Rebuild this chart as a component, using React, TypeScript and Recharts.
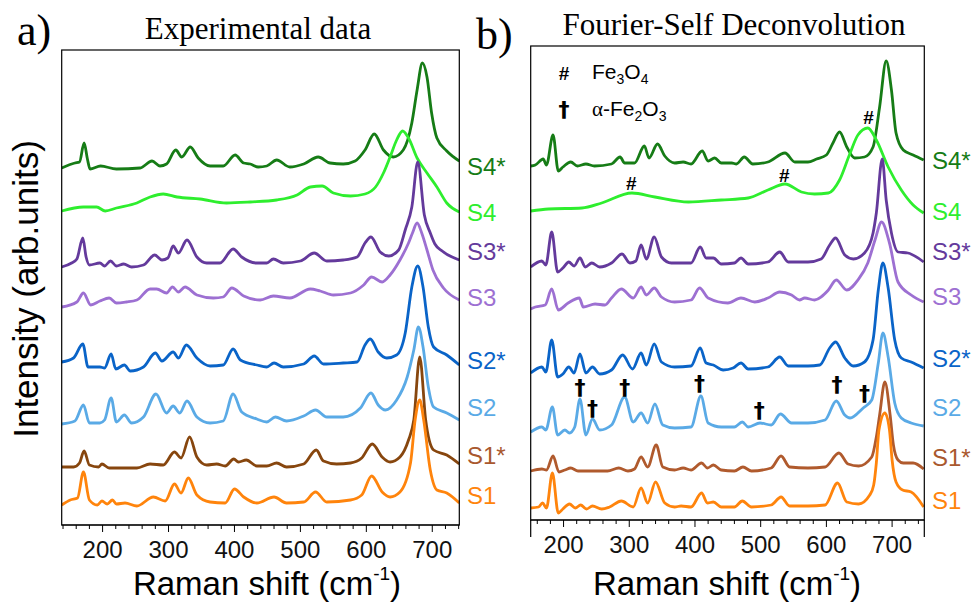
import React from "react";
import { ComposedChart, Line, Scatter, XAxis, YAxis } from "recharts";

type Pt = [number, number];

// a) experimental spectra, [Raman shift cm-1, stacked intensity]
const A_S4S: Pt[] = [[138,357],[158,362],[165,363],[172,382],[177,366],[181,356],[197,359],[221,356],[257,357],[275,364],[287,359],[297,361],[311,375],[320,368],[333,378],[345,367],[363,359],[383,359],[401,370],[414,362],[424,361],[436,358],[449,359],[464,365],[484,358],[505,361],[527,368],[545,362],[565,361],[583,364],[598,375],[612,391],[626,375],[641,368],[656,375],[669,402],[677,435],[685,462],[692,448],[699,412],[707,387],[722,374],[741,364]];
const A_S4: Pt[] = [[138,314],[171,318],[191,318],[204,314],[221,317],[252,322],[272,328],[292,331],[313,328],[348,326],[388,322],[424,323],[464,325],[495,330],[515,338],[533,339],[550,332],[576,329],[598,331],[614,338],[626,352],[636,368],[646,385],[655,394],[664,387],[677,367],[692,352],[707,338],[722,322],[741,313]];
const A_S3S: Pt[] = [[138,258],[153,262],[161,266],[170,287],[175,268],[180,260],[196,262],[203,259],[212,264],[221,259],[232,261],[244,258],[262,260],[279,270],[290,265],[299,267],[307,279],[315,272],[328,285],[343,268],[358,262],[378,262],[398,276],[411,268],[434,262],[449,262],[459,266],[474,262],[500,264],[521,272],[540,264],[565,265],[586,268],[598,282],[607,288],[621,273],[634,269],[649,275],[659,295],[669,318],[678,363],[688,310],[697,292],[704,281],[715,274],[741,265]];
const A_S3: Pt[] = [[138,218],[161,223],[171,232],[182,220],[196,224],[210,227],[221,222],[236,223],[252,225],[272,236],[282,236],[297,232],[306,238],[315,233],[325,238],[343,230],[368,227],[383,228],[396,237],[414,229],[439,225],[459,229],[484,227],[515,236],[530,234],[550,230],[576,232],[596,240],[608,248],[624,243],[636,250],[651,265],[664,282],[670,292],[677,302],[684,292],[692,275],[701,255],[717,237],[741,225]];
const A_S2S: Pt[] = [[138,163],[156,167],[170,181],[178,158],[196,158],[203,157],[213,171],[220,156],[233,160],[242,154],[262,158],[280,172],[290,164],[307,173],[315,167],[327,180],[343,167],[363,159],[383,160],[398,176],[409,165],[434,160],[449,158],[460,162],[474,158],[505,161],[521,169],[535,161],[565,162],[586,163],[598,180],[606,186],[618,173],[631,167],[646,170],[659,192],[669,238],[678,259],[686,238],[694,198],[702,178],[722,170],[741,160]];
const A_S2: Pt[] = [[138,101],[158,104],[171,120],[180,102],[196,102],[203,105],[213,127],[221,103],[233,110],[244,102],[262,108],[281,131],[297,112],[307,119],[317,112],[328,124],[343,108],[363,102],[383,104],[398,131],[411,113],[434,106],[449,103],[462,108],[479,104],[505,109],[523,115],[540,108],[565,108],[591,117],[607,132],[618,120],[629,115],[646,125],[662,148],[672,175],[679,198],[686,178],[694,138],[702,118],[722,112],[741,105]];
const A_S1S: Pt[] = [[138,58],[156,58],[165,62],[172,74],[180,60],[194,58],[199,61],[210,57],[231,57],[252,57],[272,61],[292,60],[309,73],[319,67],[332,88],[343,68],[358,60],[373,61],[386,59],[399,66],[406,63],[418,65],[434,59],[449,59],[464,62],[479,58],[505,61],[524,75],[535,64],[555,61],[576,62],[593,67],[609,81],[624,68],[636,63],[651,68],[664,85],[672,105],[681,168],[690,105],[702,75],[722,70],[741,61]];
const A_S1: Pt[] = [[138,20],[151,25],[162,27],[171,53],[180,25],[192,20],[199,24],[207,21],[215,25],[221,21],[234,22],[252,19],[277,28],[295,24],[309,41],[319,32],[330,47],[343,30],[363,23],[386,22],[400,36],[414,28],[434,22],[460,28],[479,22],[505,23],[523,33],[540,23],[576,25],[593,30],[608,49],[624,33],[636,28],[651,33],[667,62],[674,105],[681,125],[687,105],[697,55],[707,35],[722,32],[741,22]];

// b) Fourier-self-deconvolved spectra
const B_S4S: Pt[] = [[150,354],[157,355],[169,361],[174,355],[184,385],[192,349],[199,353],[211,358],[221,354],[234,356],[247,354],[273,356],[286,363],[293,357],[308,357],[323,374],[330,362],[343,376],[354,364],[369,357],[382,358],[394,356],[411,369],[420,359],[430,362],[440,357],[456,357],[463,356],[475,363],[488,356],[511,358],[537,367],[552,358],[572,358],[585,361],[600,365],[610,377],[620,388],[631,373],[643,362],[658,363],[671,373],[681,413],[691,459],[699,430],[706,387],[717,370],[732,365],[748,360]];
const B_S4: Pt[] = [[150,309],[177,311],[228,312],[258,317],[304,327],[339,323],[390,318],[440,320],[481,322],[511,330],[537,336],[562,328],[582,326],[603,327],[620,340],[635,365],[648,385],[663,392],[676,380],[694,353],[714,330],[732,315],[748,307]];
const B_S3S: Pt[] = [[150,253],[167,259],[173,255],[182,288],[191,248],[199,252],[208,258],[216,254],[225,262],[233,253],[243,257],[255,253],[273,257],[289,266],[301,257],[310,259],[318,275],[326,261],[338,283],[349,263],[364,257],[379,257],[394,257],[408,273],[417,262],[428,262],[440,256],[460,257],[470,262],[481,256],[511,258],[529,268],[542,258],[572,258],[592,261],[605,275],[614,282],[628,265],[641,261],[658,267],[671,287],[676,307],[685,361],[691,320],[699,287],[709,268],[724,267],[748,258]];
const B_S3: Pt[] = [[150,211],[157,213],[172,215],[182,231],[192,210],[207,217],[224,222],[230,213],[248,216],[263,215],[273,222],[288,231],[306,222],[318,233],[326,225],[338,232],[349,223],[369,218],[394,220],[407,232],[420,222],[450,217],[470,222],[491,218],[511,222],[529,228],[547,225],[559,220],[567,222],[582,220],[603,230],[615,240],[631,230],[648,240],[663,257],[674,280],[684,298],[696,277],[709,238],[729,225],[748,218]];
const B_S2S: Pt[] = [[150,147],[167,153],[173,148],[182,180],[191,143],[199,146],[208,153],[216,147],[225,166],[234,147],[244,153],[255,146],[273,150],[290,165],[305,151],[318,167],[326,155],[338,176],[349,158],[369,153],[394,154],[408,172],[417,157],[428,155],[443,150],[458,152],[470,157],[481,151],[511,153],[529,163],[542,154],[572,154],[590,155],[605,172],[614,178],[628,162],[641,154],[658,158],[671,180],[679,230],[686,257],[694,232],[704,180],[714,162],[729,158],[748,152]];
const B_S2: Pt[] = [[150,88],[167,93],[173,90],[183,113],[191,85],[202,90],[209,87],[217,93],[225,121],[234,85],[244,101],[255,90],[273,95],[293,123],[306,98],[318,107],[328,97],[339,116],[351,95],[369,92],[394,93],[409,124],[420,97],[440,93],[460,93],[472,98],[481,93],[499,97],[516,95],[530,106],[547,97],[572,97],[598,100],[615,119],[628,105],[636,102],[656,112],[669,120],[679,157],[686,187],[694,163],[704,117],[714,102],[729,97],[748,94]];
const B_S1S: Pt[] = [[150,49],[167,51],[174,50],[184,64],[193,48],[202,50],[211,52],[222,49],[267,49],[284,52],[298,49],[308,51],[318,63],[328,53],[341,75],[351,53],[369,50],[382,52],[394,50],[410,57],[419,52],[428,55],[440,50],[460,49],[473,53],[486,49],[516,52],[531,64],[544,53],[572,52],[598,53],[619,67],[633,56],[649,54],[669,63],[676,83],[681,105],[689,138],[697,105],[702,75],[709,60],[717,57],[732,57],[748,51]];
const B_S1: Pt[] = [[150,12],[162,13],[168,17],[174,12],[183,47],[192,7],[199,11],[209,16],[218,12],[226,15],[235,11],[244,14],[258,11],[270,13],[288,19],[306,13],[318,32],[328,17],[340,38],[354,17],[369,13],[379,14],[394,13],[410,27],[419,17],[428,18],[440,13],[460,13],[472,19],[486,13],[516,15],[531,23],[544,14],[572,14],[598,15],[617,37],[631,18],[649,16],[666,25],[672,35],[676,57],[680,90],[689,107],[696,90],[700,60],[706,38],[716,30],[729,28],[748,13]];

// phase markers on panel b
const HASH_MARKS: Pt[] = [[303,337],[536,345],[664,403]];
const DAGGER_MARKS: Pt[] = [[225,133],[244,112],[293,133],[407,137],[498,110],[616,136],[658,127]];

const SERIES = ["S4*", "S4", "S3*", "S3", "S2*", "S2", "S1*", "S1"];
const TICKS_A = [140,160,180,200,220,240,260,280,300,320,340,360,380,400,420,440,460,480,500,520,540,560,580,600,620,640,660,680,700,720,740];
const TICKS_B = [160,180,200,220,240,260,280,300,320,340,360,380,400,420,440,460,480,500,520,540,560,580,600,620,640,660,680,700,720,740];

const LINE_COLORS = ["#167c16", "#2eee2e", "#643a9c", "#9d70d2", "#0a64c8", "#5aaae6", "#87460e", "#ff840c"];
const LINE_COLORS_B = ["#167c16", "#2eee2e", "#643a9c", "#9d70d2", "#0a64c8", "#5aaae6", "#b05a2d", "#ff840c"];
const LABEL_COLORS = ["#167c16", "#2eee2e", "#643a9c", "#9d70d2", "#0a64c8", "#5aaae6", "#a9582e", "#ff840c"];

const SANS = "'Liberation Sans', Arial, Helvetica, sans-serif";
const SERIF = "'Liberation Serif', 'Times New Roman', serif";

const toPts = (arr: Pt[]) => arr.map(([x, y]) => ({ x, y }));

function makeTick(props: any) {
  const { x, y, payload } = props;
  const major = payload.value % 100 === 0;
  return (
    <g>
      <line x1={x} x2={x} y1={y} y2={y + (major ? 7 : 4)} stroke="#000" strokeWidth={1} />
      {major ? (
        <text x={x} y={y + 33} textAnchor="middle" fontSize={24} fontFamily={SANS} fill="#111">
          {payload.value}
        </text>
      ) : null}
    </g>
  );
}

function Panel(props: {
  left: number; width: number; plotLeft: number; plotRight: number; plotTop: number; plotBottom: number;
  domain: [number, number]; yMax: number; ticks: number[]; series: Pt[][]; colors: string[]; marks?: boolean;
}) {
  const { left, width, plotLeft, plotRight, plotTop, plotBottom, domain, yMax, ticks, series, colors, marks } = props;
  return (
    <div style={{ position: "absolute", left, top: 0, width, height: 602 }}>
      <ComposedChart
        width={width}
        height={602}
        margin={{ top: plotTop, left: plotLeft - left, right: left + width - plotRight, bottom: 0 }}
      >
        <XAxis
          dataKey="x"
          type="number"
          domain={domain}
          allowDataOverflow
          ticks={ticks}
          interval={0}
          tick={makeTick}
          tickLine={false}
          tickSize={0}
          tickMargin={0}
          height={602 - plotBottom}
          axisLine={{ stroke: "#000", strokeWidth: 1.2 }}
        />
        <YAxis yAxisId="l" type="number" domain={[0, yMax]} allowDataOverflow hide />
        {series.map((s, i) => (
          <Line
            key={SERIES[i]}
            yAxisId="l"
            data={toPts(s)}
            dataKey="y"
            type="monotone"
            stroke={colors[i]}
            strokeWidth={2.8}
            dot={false}
            isAnimationActive={false}
          />
        ))}
        {marks ? (
          <Scatter
            yAxisId="l"
            data={toPts(HASH_MARKS)}
            dataKey="y"
            isAnimationActive={false}
            shape={(p: any) => (
              <text x={p.cx} y={p.cy + 7} textAnchor="middle" fontSize={19} fontWeight="bold" fontFamily={SANS} fill="#000">#</text>
            )}
          />
        ) : null}
        {marks ? (
          <Scatter
            yAxisId="l"
            data={toPts(DAGGER_MARKS)}
            dataKey="y"
            isAnimationActive={false}
            shape={(p: any) => (
              <text x={p.cx} y={p.cy + 8} textAnchor="middle" fontSize={22} fontWeight="bold" fontFamily="'DejaVu Sans', sans-serif" fill="#000">†</text>
            )}
          />
        ) : null}
      </ComposedChart>
    </div>
  );
}

const LABEL_Y_A = [175, 221, 260, 306, 369, 416, 464, 504];
const LABEL_Y_B = [169, 220, 260, 305, 367, 416, 466, 509];

export default function App() {
  return (
    <div style={{ position: "absolute", left: 0, top: 0, width: 972, height: 602, background: "#fff", overflow: "hidden" }}>
      <Panel
        left={0} width={490} plotLeft={61.7} plotRight={459.3} plotTop={50} plotBottom={525}
        domain={[138, 741]} yMax={475} ticks={TICKS_A}
        series={[A_S4S, A_S4, A_S3S, A_S3, A_S2S, A_S2, A_S1S, A_S1]}
        colors={LINE_COLORS}
      />
      <Panel
        left={490} width={482} plotLeft={530.7} plotRight={924.3} plotTop={46} plotBottom={520}
        domain={[150, 749]} yMax={474} ticks={TICKS_B}
        series={[B_S4S, B_S4, B_S3S, B_S3, B_S2S, B_S2, B_S1S, B_S1]}
        colors={LINE_COLORS_B}
        marks
      />
      <svg width={972} height={602} style={{ position: "absolute", left: 0, top: 0, pointerEvents: "none" }}>
        <rect x={61.7} y={50} width={397.6} height={475} fill="none" stroke="#000" strokeWidth={1.2} />
        <rect x={530.7} y={46} width={393.6} height={474} fill="none" stroke="#000" strokeWidth={1.2} />
        <line x1={530.7} x2={530.7} y1={520} y2={537} stroke="#000" strokeWidth={1.2} />
        <line x1={924.3} x2={924.3} y1={520} y2={537} stroke="#000" strokeWidth={1.2} />
        <text x={17} y={45} fontSize={44} fontFamily={SERIF}>a)</text>
        <text x={476} y={49} fontSize={44} fontFamily={SERIF}>b)</text>
        <text x={258} y={39} textAnchor="middle" fontSize={31} fontFamily={SERIF}>Experimental data</text>
        <text x={734} y={35} textAnchor="middle" fontSize={31} fontFamily={SERIF}>Fourier-Self Deconvolution</text>
        <text transform="translate(38,289) rotate(-90)" textAnchor="middle" fontSize={35} fontFamily={SANS}>Intensity (arb.units)</text>
        {[267, 727].map((cx) => (
          <text key={cx} x={cx} y={595} textAnchor="middle" fontSize={33} fontFamily={SANS}>
            Raman shift (cm<tspan dy={-15} fontSize={19}>-1</tspan><tspan dy={15}>)</tspan>
          </text>
        ))}
        {SERIES.map((s, i) => (
          <text key={"a" + s} x={467} y={LABEL_Y_A[i]} fontSize={24} fontFamily={SANS} fill={LABEL_COLORS[i]}>{s}</text>
        ))}
        {SERIES.map((s, i) => (
          <text key={"b" + s} x={932} y={LABEL_Y_B[i]} fontSize={24} fontFamily={SANS} fill={LABEL_COLORS[i]}>{s}</text>
        ))}
        <text x={564} y={80} textAnchor="middle" fontSize={19} fontWeight="bold" fontFamily={SANS}>#</text>
        <text x={592} y={79} fontSize={21} fontFamily={SANS}>
          Fe<tspan dy={5} fontSize={14}>3</tspan><tspan dy={-5}>O</tspan><tspan dy={5} fontSize={14}>4</tspan>
        </text>
        <text x={564} y={117} textAnchor="middle" fontSize={22} fontWeight="bold" fontFamily="'DejaVu Sans', sans-serif">†</text>
        <text x={592} y={116} fontSize={21} fontFamily={SANS}>
          <tspan fontFamily={SERIF}>α</tspan>-Fe<tspan dy={5} fontSize={14}>2</tspan><tspan dy={-5}>O</tspan><tspan dy={5} fontSize={14}>3</tspan>
        </text>
      </svg>
    </div>
  );
}
